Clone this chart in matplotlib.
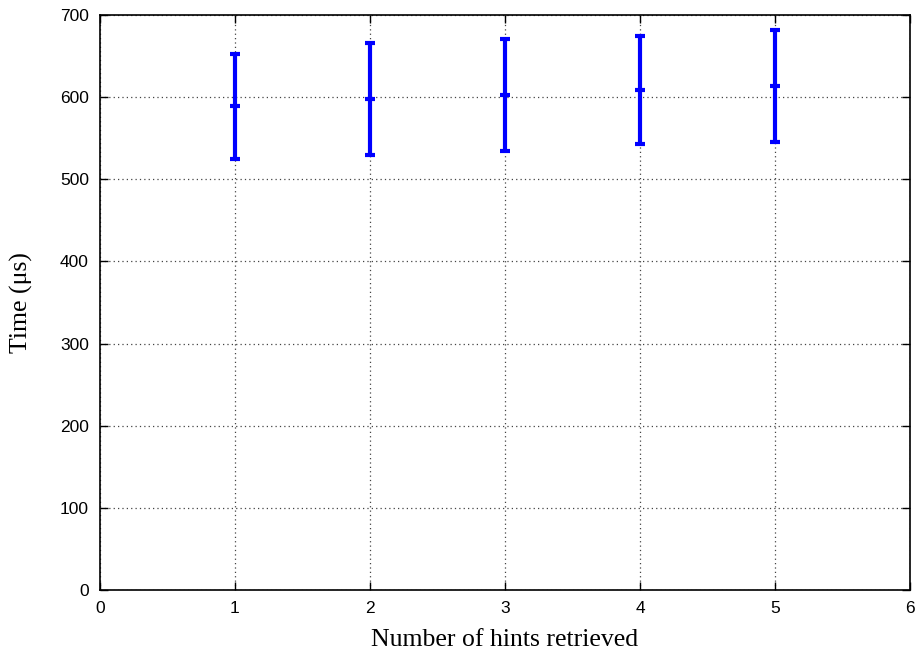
import matplotlib
matplotlib.use('Agg')
from matplotlib import pyplot as plt
import numpy as np

# mean lookup time and spread per number of hints
hints = [1, 2, 3, 4, 5]
meanTime = [589, 598, 603, 609, 614]
lowTime = [525, 530, 535, 543, 546]
highTime = [653, 666, 671, 675, 682]

xTicks = [0, 1, 2, 3, 4, 5, 6]
yTicks = [0, 100, 200, 300, 400, 500, 600, 700]


def plotHints():
    fig = plt.figure(figsize=(9.23, 6.57), dpi=100)
    ax = fig.add_axes([0.1083, 0.102, 0.8777, 0.875])

    mean = np.array(meanTime)
    err = [mean - np.array(lowTime), np.array(highTime) - mean]
    ax.errorbar(hints, meanTime, yerr=err, fmt='_', color='#0000ff', ecolor='#0000ff',
                elinewidth=3, capsize=3.5, capthick=3, markersize=7, markeredgewidth=3, zorder=3)

    ax.set_xlim(0, 6)
    ax.set_ylim(0, 700)
    ax.set_xticks(xTicks)
    ax.set_yticks(yTicks)
    ax.grid(True, linestyle=(0, (1, 2.5)), color='#444444', linewidth=0.9)
    ax.tick_params(direction='in', length=6, width=1, top=True, right=True,
                   labelsize=12.5, pad=8)
    for lbl in ax.get_xticklabels() + ax.get_yticklabels():
        lbl.set_family('Liberation Sans')
    for s in ax.spines.values():
        s.set_linewidth(1.2)

    ax.set_xlabel('Number of hints retrieved', family='Liberation Serif', fontsize=18.5, labelpad=9)
    ax.set_ylabel('Time (μs)', family='Liberation Serif', fontsize=18.5, labelpad=19)

    fig.savefig('out.png', dpi=100)


if __name__ == '__main__':
    plotHints()
